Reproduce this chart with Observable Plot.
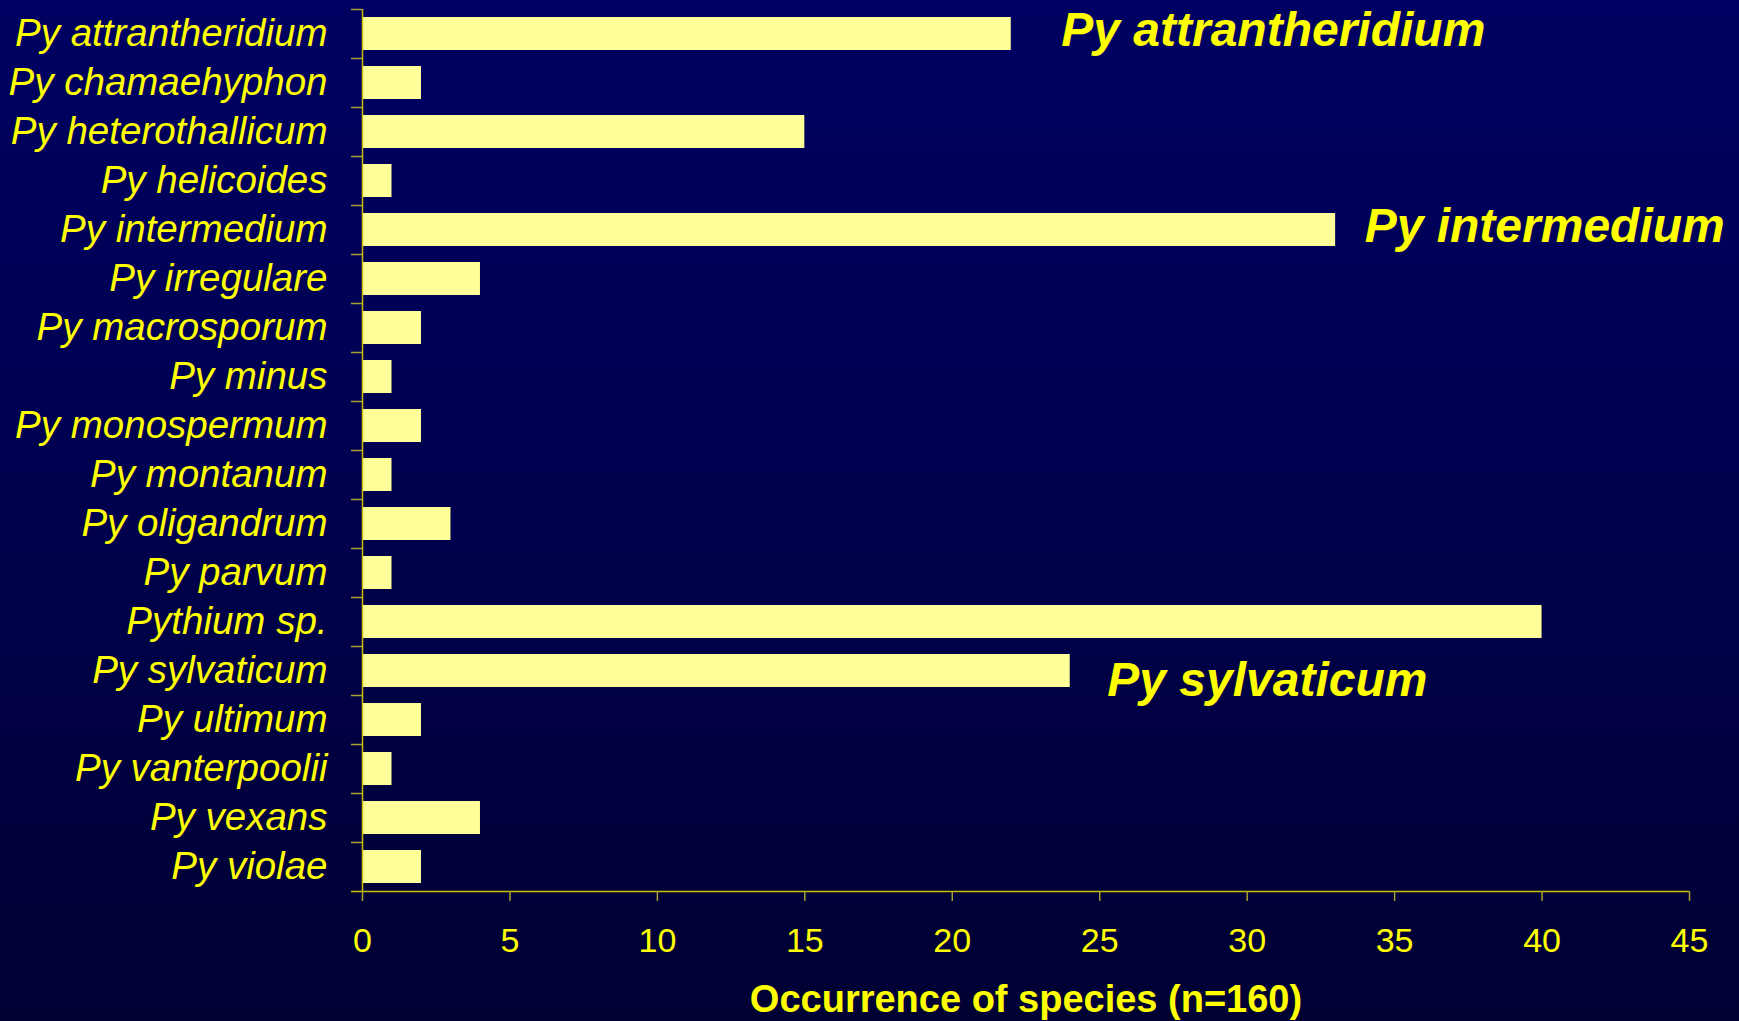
<!DOCTYPE html>
<html>
<head>
<meta charset="utf-8">
<script src="https://cdn.jsdelivr.net/npm/d3@7"></script>
<script src="https://cdn.jsdelivr.net/npm/@observablehq/plot@0.6"></script>
<style>
  html, body { margin: 0; padding: 0; }
  body {
    width: 1739px; height: 1021px; overflow: hidden;
    background: linear-gradient(to bottom, #000062 0%, #000050 45%, #000033 100%);
    font-family: "Liberation Sans", Arial, sans-serif;
  }
</style>
</head>
<body>
<div id="chart"></div>
<script>
const categories = [
  "Py attrantheridium", "Py chamaehyphon", "Py heterothallicum", "Py helicoides",
  "Py intermedium", "Py irregulare", "Py macrosporum", "Py minus",
  "Py monospermum", "Py montanum", "Py oligandrum", "Py parvum",
  "Pythium sp.", "Py sylvaticum", "Py ultimum", "Py vanterpoolii",
  "Py vexans", "Py violae"
];
const values = [22, 2, 15, 1, 33, 4, 2, 1, 2, 1, 3, 1, 40, 24, 2, 1, 4, 2];
const xTicks = [0, 5, 10, 15, 20, 25, 30, 35, 40, 45];
const xTitle = "Occurrence of species (n=160)";
const highlighted = ["Py attrantheridium", "Py intermedium", "Py sylvaticum"];

const data = categories.map((name, i) => ({name, value: values[i]}));

const W = 1739, H = 1021;
const mTop = 9, mBottom = 130, mLeft = 362, mRight = 50;
const step = (H - mTop - mBottom) / categories.length;
const lineColor = "#c8c000";
const tickColor = "#a8a030";
const textColor = "#ffff00";
const barColor = "#ffff99";

const annot = (name, dx, dy) =>
  Plot.text(data.filter(d => d.name === name), {
    x: "value", y: "name", text: "name", textAnchor: "start",
    dx, dy, fill: textColor, fontSize: 48, fontWeight: "bold", fontStyle: "italic"
  });

const chart = Plot.plot({
  width: W, height: H,
  marginTop: mTop, marginBottom: mBottom, marginLeft: mLeft, marginRight: mRight,
  style: {background: "transparent", color: textColor, fontFamily: "'Liberation Sans', Arial, sans-serif"},
  x: {domain: [0, 45], label: null},
  y: {domain: categories, paddingInner: 0.32, paddingOuter: 0.16, label: null},
  marks: [
    Plot.barX(data, {x: "value", y: "name", fill: barColor}),
    Plot.axisY({tickSize: 0, tickPadding: 35, fontSize: 38.5, fontStyle: "italic", fill: textColor, stroke: "none"}),
    Plot.axisY({tickSize: 11, tickFormat: null, dy: -step / 2, stroke: tickColor, strokeWidth: 1.5}),
    Plot.ruleX([0], {stroke: lineColor, strokeWidth: 1.5}),
    Plot.ruleY([categories[categories.length - 1]], {dy: step / 2, insetLeft: -11, stroke: lineColor, strokeWidth: 1.5}),
    Plot.axisX(xTicks, {tickSize: 10, tickPadding: 26, fontSize: 34, fill: textColor, stroke: tickColor, strokeWidth: 1.5}),
    Plot.text([xTitle], {frameAnchor: "bottom", dy: 120, fill: textColor, fontSize: 38, fontWeight: "bold"}),
    annot("Py attrantheridium", 50, -3),
    annot("Py intermedium", 29, -3),
    annot("Py sylvaticum", 37, 10)
  ]
});
document.getElementById("chart").appendChild(chart);
</script>
</body>
</html>
